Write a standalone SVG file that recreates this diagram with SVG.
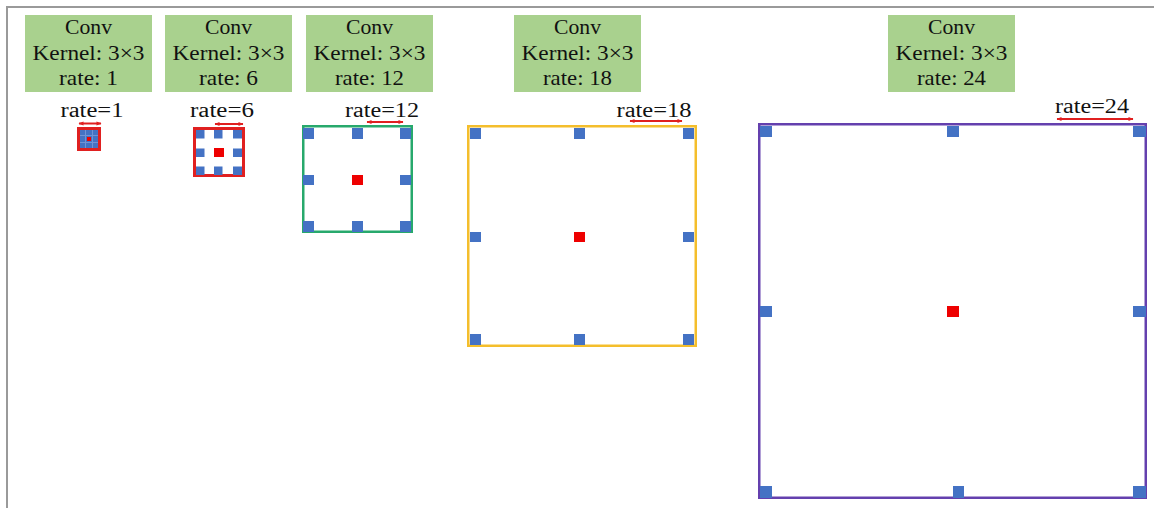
<svg xmlns="http://www.w3.org/2000/svg" width="1154" height="508" viewBox="0 0 1154 508">
  <style>
    .box { fill: #A9D18E; }
    .lbl { font-family: "Liberation Serif", "DejaVu Serif", serif; font-size: 21px; fill: #111; text-anchor: middle; }
    .rt { font-family: "Liberation Serif", "DejaVu Serif", serif; font-size: 20px; fill: #111; text-anchor: middle; }
    .blue { fill: #4472C4; }
    .red { fill: #EE0000; }
    .span { stroke: #E02020; stroke-width: 2; fill: none; marker-start: url(#ah); marker-end: url(#ah); }
  </style>
  <defs>
    <marker id="ah" viewBox="0 0 10 10" refX="9" refY="5" markerWidth="6" markerHeight="5" orient="auto-start-reverse" markerUnits="userSpaceOnUse">
      <path d="M0,1 L10,5 L0,9 Z" fill="#E02020"/>
    </marker>
  </defs>

  <rect width="1154" height="508" fill="#fff"/>
  <!-- outer frame -->
  <path d="M7,508 V7 H1154" fill="none" stroke="#9a9a9a" stroke-width="2"/>

  <!-- layer captions -->
  <g id="conv1">
    <rect class="box" x="25" y="15" width="127" height="77"/>
    <text class="lbl" x="88.5" y="34" textLength="47" lengthAdjust="spacingAndGlyphs">Conv</text>
    <text class="lbl" x="88.5" y="60" textLength="112" lengthAdjust="spacingAndGlyphs">Kernel: 3×3</text>
    <text class="lbl" x="88.5" y="85" textLength="59" lengthAdjust="spacingAndGlyphs">rate: 1</text>
  </g>
  <g id="conv6">
    <rect class="box" x="165" y="15" width="127" height="77"/>
    <text class="lbl" x="228.5" y="34" textLength="47" lengthAdjust="spacingAndGlyphs">Conv</text>
    <text class="lbl" x="228.5" y="60" textLength="112" lengthAdjust="spacingAndGlyphs">Kernel: 3×3</text>
    <text class="lbl" x="228.5" y="85" textLength="59" lengthAdjust="spacingAndGlyphs">rate: 6</text>
  </g>
  <g id="conv12">
    <rect class="box" x="306" y="15" width="127" height="77"/>
    <text class="lbl" x="369.5" y="34" textLength="47" lengthAdjust="spacingAndGlyphs">Conv</text>
    <text class="lbl" x="369.5" y="60" textLength="112" lengthAdjust="spacingAndGlyphs">Kernel: 3×3</text>
    <text class="lbl" x="369.5" y="85" textLength="69" lengthAdjust="spacingAndGlyphs">rate: 12</text>
  </g>
  <g id="conv18">
    <rect class="box" x="514" y="15" width="127" height="77"/>
    <text class="lbl" x="577.5" y="34" textLength="47" lengthAdjust="spacingAndGlyphs">Conv</text>
    <text class="lbl" x="577.5" y="60" textLength="112" lengthAdjust="spacingAndGlyphs">Kernel: 3×3</text>
    <text class="lbl" x="577.5" y="85" textLength="69" lengthAdjust="spacingAndGlyphs">rate: 18</text>
  </g>
  <g id="conv24">
    <rect class="box" x="888" y="15" width="127" height="77"/>
    <text class="lbl" x="951.5" y="34" textLength="47" lengthAdjust="spacingAndGlyphs">Conv</text>
    <text class="lbl" x="951.5" y="60" textLength="112" lengthAdjust="spacingAndGlyphs">Kernel: 3×3</text>
    <text class="lbl" x="951.5" y="85" textLength="69" lengthAdjust="spacingAndGlyphs">rate: 24</text>
  </g>

  <!-- dilated kernel grids -->
  <g id="grid1">
    <text class="rt" x="92" y="117" textLength="63" lengthAdjust="spacingAndGlyphs">rate=1</text>
    <rect x="78.5" y="128.5" width="21" height="21" fill="#4472C4" stroke="#E02020" stroke-width="3"/>
    <path d="M85.5,130 V148 M92.5,130 V148 M80,135.5 H98 M80,142.5 H98" stroke="#6F93D6" stroke-width="1"/>
    <rect class="red" x="87" y="137" width="4" height="4"/>
  </g>
  <g id="grid6">
    <text class="rt" x="222" y="117" textLength="64" lengthAdjust="spacingAndGlyphs">rate=6</text>
    <rect x="194.5" y="128.5" width="49" height="47" fill="#fff" stroke="#E02020" stroke-width="3"/>
    <rect class="blue" x="196" y="130" width="8.5" height="8.5"/>
    <rect class="blue" x="214" y="130" width="8.5" height="8.5"/>
    <rect class="blue" x="233" y="130" width="9" height="8.5"/>
    <rect class="blue" x="196" y="148.5" width="8.5" height="8.5"/>
    <rect class="blue" x="233" y="148.5" width="9" height="8.5"/>
    <rect class="blue" x="196" y="166.5" width="8.5" height="8.5"/>
    <rect class="blue" x="214" y="166.5" width="8.5" height="8.5"/>
    <rect class="blue" x="233" y="166.5" width="9" height="8.5"/>
    <rect class="red" x="214" y="148" width="10" height="9"/>
  </g>
  <g id="grid12">
    <text class="rt" x="382" y="117" textLength="74" lengthAdjust="spacingAndGlyphs">rate=12</text>
    <rect x="303.25" y="126.25" width="108.5" height="105.5" fill="#fff" stroke="#27A96C" stroke-width="2.5"/>
    <rect class="blue" x="303" y="128" width="11" height="11"/>
    <rect class="blue" x="352" y="128" width="11" height="11"/>
    <rect class="blue" x="400" y="128" width="11" height="11"/>
    <rect class="blue" x="303" y="175" width="11" height="10"/>
    <rect class="blue" x="400" y="175" width="11" height="10"/>
    <rect class="blue" x="303" y="221" width="11" height="11"/>
    <rect class="blue" x="352" y="221" width="11" height="11"/>
    <rect class="blue" x="400" y="221" width="11" height="11"/>
    <rect class="red" x="352" y="175" width="11" height="10"/>
  </g>
  <g id="grid18">
    <text class="rt" x="654" y="117" textLength="75" lengthAdjust="spacingAndGlyphs">rate=18</text>
    <rect x="468.25" y="126.25" width="227.5" height="219.5" fill="#fff" stroke="#F4BE2C" stroke-width="2.5"/>
    <rect class="blue" x="470" y="128" width="11" height="11"/>
    <rect class="blue" x="574" y="128" width="11" height="11"/>
    <rect class="blue" x="683" y="128" width="11" height="11"/>
    <rect class="blue" x="470" y="232" width="11" height="10"/>
    <rect class="blue" x="683" y="232" width="11" height="10"/>
    <rect class="blue" x="470" y="334" width="11" height="11"/>
    <rect class="blue" x="574" y="334" width="11" height="11"/>
    <rect class="blue" x="683" y="334" width="11" height="11"/>
    <rect class="red" x="574" y="232" width="11" height="10"/>
  </g>
  <g id="grid24">
    <text class="rt" x="1092" y="113" textLength="74" lengthAdjust="spacingAndGlyphs">rate=24</text>
    <rect x="759.25" y="124.25" width="386.5" height="373.5" fill="#fff" stroke="#6440AE" stroke-width="2.5"/>
    <rect class="blue" x="760" y="126" width="12" height="11"/>
    <rect class="blue" x="947" y="126" width="12" height="11"/>
    <rect class="blue" x="1133" y="126" width="13" height="11"/>
    <rect class="blue" x="760" y="306" width="12" height="11"/>
    <rect class="blue" x="1133" y="306" width="13" height="11"/>
    <rect class="blue" x="760" y="486" width="12" height="12"/>
    <rect class="blue" x="953" y="486" width="11" height="12"/>
    <rect class="blue" x="1133" y="486" width="13" height="12"/>
    <rect class="red" x="947" y="306" width="12" height="11"/>
  </g>

  <!-- rate spans -->
  <g id="connectors">
    <line class="span" x1="79" y1="123.5" x2="101" y2="123.5"/>
    <line class="span" x1="215" y1="124" x2="243" y2="124"/>
    <line class="span" x1="367" y1="122" x2="403" y2="122"/>
    <line class="span" x1="630" y1="121" x2="682" y2="121"/>
    <line class="span" x1="1057" y1="119" x2="1133" y2="119"/>
  </g>
</svg>
